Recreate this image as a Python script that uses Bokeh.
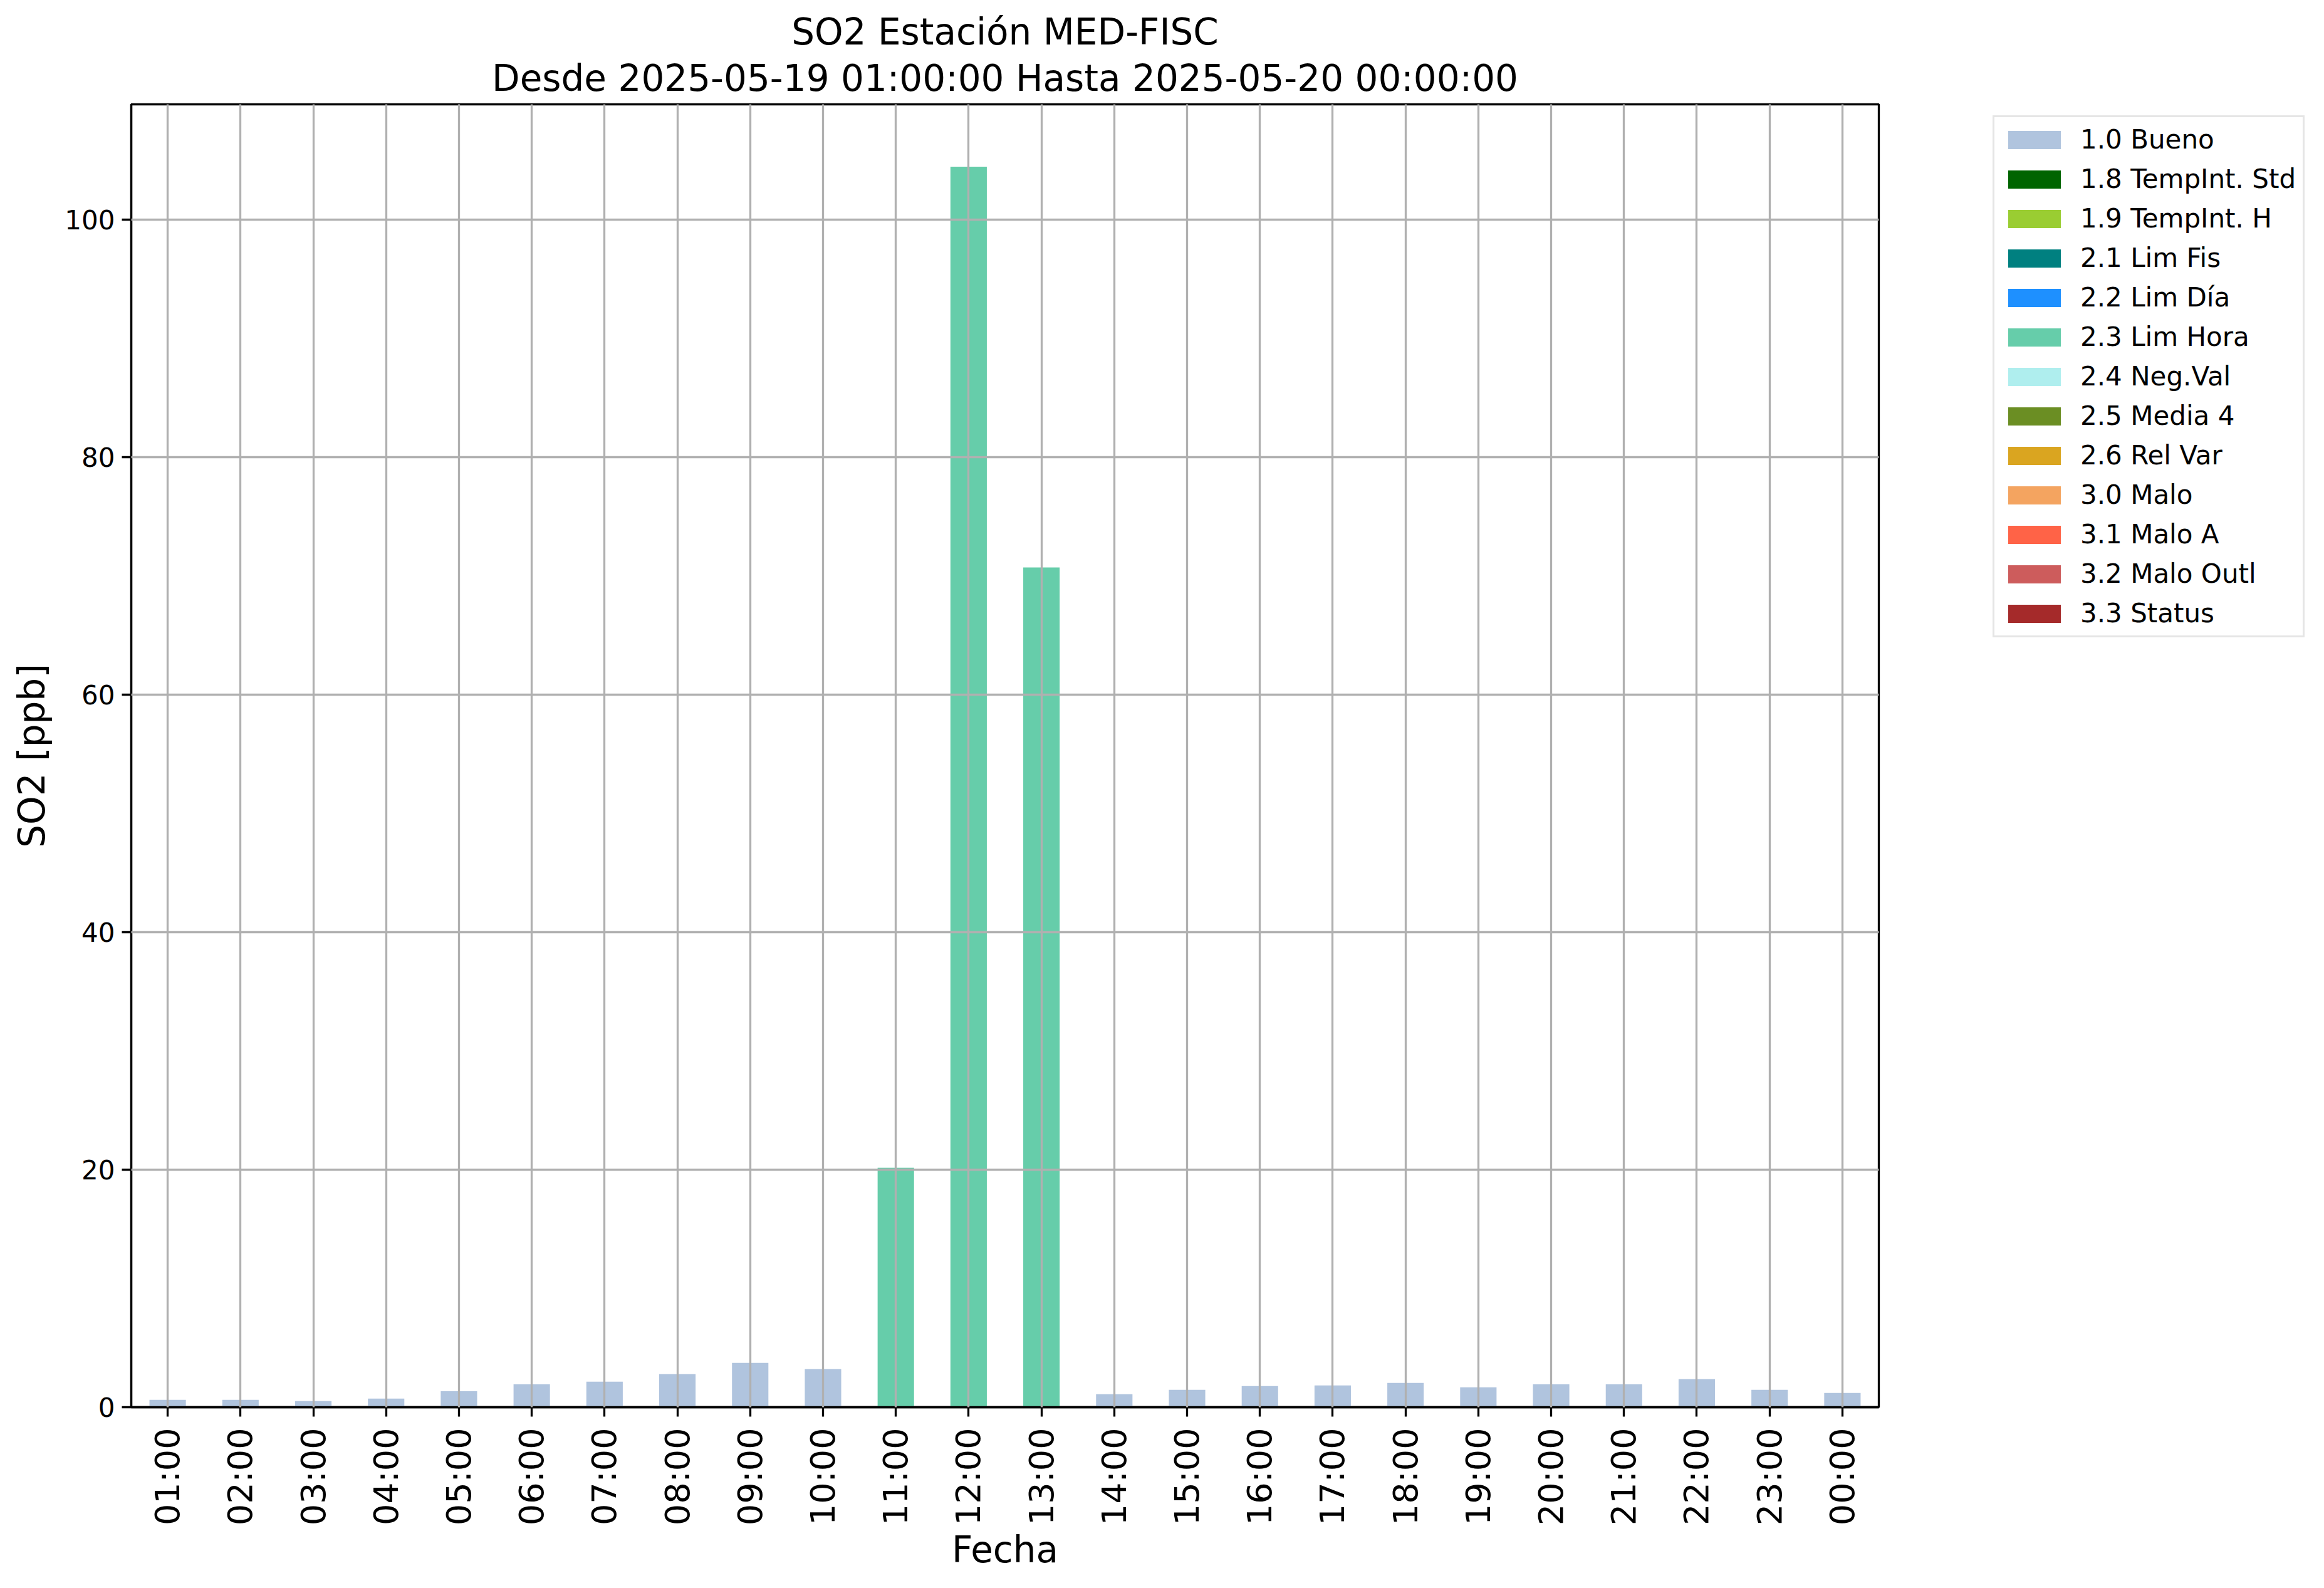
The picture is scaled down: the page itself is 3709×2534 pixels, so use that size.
import math
from bokeh.plotting import figure
from bokeh.models import (FactorRange, Range1d, FixedTicker, Legend, LegendItem,
                          Title, ColumnDataSource)
from bokeh.embed import file_html
from bokeh.resources import INLINE

# ---- data ----
hours = ["01:00", "02:00", "03:00", "04:00", "05:00", "06:00", "07:00", "08:00",
         "09:00", "10:00", "11:00", "12:00", "13:00", "14:00", "15:00", "16:00",
         "17:00", "18:00", "19:00", "20:00", "21:00", "22:00", "23:00", "00:00"]
so2_values = [0.62, 0.62, 0.51, 0.72, 1.35, 1.93, 2.15, 2.78, 3.73, 3.20,
              20.15, 104.45, 70.7, 1.09, 1.46, 1.78, 1.83, 2.04, 1.67, 1.93,
              1.93, 2.36, 1.46, 1.20]
flags = ["1.0 Bueno"] * 10 + ["2.3 Lim Hora"] * 3 + ["1.0 Bueno"] * 11

categories = ["1.0 Bueno", "1.8 TempInt. Std", "1.9 TempInt. H", "2.1 Lim Fis",
              "2.2 Lim Día", "2.3 Lim Hora", "2.4 Neg.Val", "2.5 Media 4",
              "2.6 Rel Var", "3.0 Malo", "3.1 Malo A", "3.2 Malo Outl", "3.3 Status"]
category_colors = ["#B0C4DE", "#006400", "#9ACD32", "#008080", "#1E90FF", "#66CDAA",
                   "#AFEEEE", "#6B8E23", "#DAA520", "#F4A460", "#FF6347", "#CD5C5C",
                   "#A52A2A"]
y_ticks = [0, 20, 40, 60, 80, 100]
y_max = 109.7

title_line1 = "SO2 Estación MED-FISC"
title_line2 = "Desde 2025-05-19 01:00:00 Hasta 2025-05-20 00:00:00"

FONT = "DejaVu Sans"
GRID = "#b0b0b0"
LW = 3.3

p = figure(x_range=FactorRange(factors=hours), y_range=Range1d(0, y_max),
           frame_width=2789, frame_height=2079,
           min_border_left=209, min_border_right=687,
           min_border_top=166, min_border_bottom=265,
           output_backend="svg", toolbar_location=None, title=None)
p.background_fill_color = "white"
p.border_fill_color = "white"
p.outline_line_color = "black"
p.outline_line_width = LW

# one column per quality flag (stacked-bar style: 0 where the flag does not apply)
items = []
for cat, col in zip(categories, category_colors):
    tops = [v if f == cat else 0.0 for v, f in zip(so2_values, flags)]
    src = ColumnDataSource(data=dict(x=hours, top=tops))
    r = p.vbar(x="x", top="top", width=0.5, bottom=0, source=src,
               fill_color=col, line_color=None)
    items.append(LegendItem(label=cat, renderers=[r]))

# titles (first added is nearest the frame)
t2 = Title(text=title_line2, align="center", text_font=FONT, text_font_size="58px",
           text_font_style="normal", text_color="black", standoff=15)
t1 = Title(text=title_line1, align="center", text_font=FONT, text_font_size="58px",
           text_font_style="normal", text_color="black", standoff=-7)
p.add_layout(t2, "above")
p.add_layout(t1, "above")

# axes
p.yaxis.ticker = FixedTicker(ticks=y_ticks)
for ax in (p.xaxis[0], p.yaxis[0]):
    ax.axis_line_color = "black"
    ax.axis_line_width = LW
    ax.major_tick_line_color = "black"
    ax.major_tick_line_width = LW
    ax.major_tick_out = 15
    ax.major_tick_in = 0
    ax.minor_tick_line_color = None
    ax.major_label_text_font = FONT
    ax.major_label_text_color = "black"
    ax.axis_label_text_font = FONT
    ax.axis_label_text_font_style = "normal"
    ax.axis_label_text_font_size = "58px"
    ax.axis_label_text_color = "black"

p.xaxis.axis_label = "Fecha"
p.xaxis.major_label_text_font_size = "54px"
p.xaxis.major_label_orientation = math.pi / 2
p.xaxis.major_label_standoff = 18
p.xaxis.axis_label_standoff = 2

p.yaxis.axis_label = "SO2 [ppb]"
p.yaxis.major_label_text_font_size = "42px"
p.yaxis.major_label_standoff = 11
p.yaxis.axis_label_standoff = 15

for g in (p.xgrid[0], p.ygrid[0]):
    g.grid_line_color = GRID
    g.grid_line_width = LW
    g.level = "overlay"

legend = Legend(items=items, location=(182, 1228))
legend.label_text_font = FONT
legend.label_text_font_size = "42px"
legend.label_text_color = "black"
legend.glyph_width = 105
legend.glyph_height = 36
legend.label_height = 48
legend.spacing = 14
legend.padding = 11
legend.label_standoff = 21
legend.margin = 0
legend.border_line_color = "#cccccc"
legend.border_line_width = 3
legend.background_fill_color = "white"
legend.background_fill_alpha = 1.0
p.add_layout(legend, "right")

open("out.html", "w").write(file_html(p, INLINE))
